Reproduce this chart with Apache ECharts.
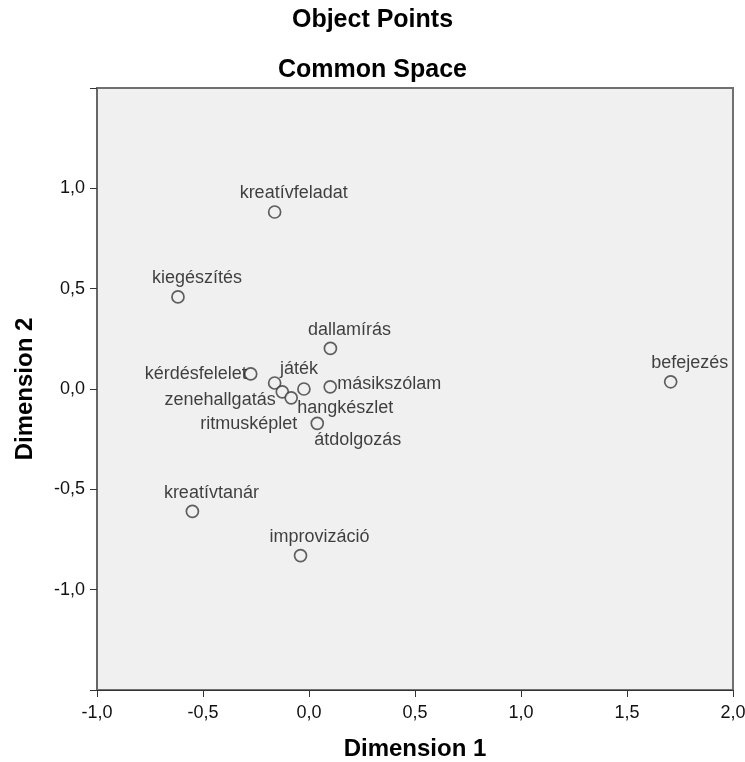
<!DOCTYPE html>
<html>
<head>
<meta charset="utf-8">
<script src="https://cdn.jsdelivr.net/npm/echarts@6/dist/echarts.min.js"></script>
<style>
html,body{margin:0;padding:0;background:#fff;}
#c{width:745px;height:762px;}
</style>
</head>
<body>
<div id="c"></div>
<script>
// ---- data ----
var names = ['kreatívfeladat','kiegészítés','dallamírás','befejezés','kérdésfelelet','játék','másikszólam','zenehallgatás','hangkészlet','ritmusképlet','átdolgozás','kreatívtanár','improvizáció'];
var dim1 = [-0.162,-0.618,0.101,1.706,-0.275,-0.024,0.100,-0.162,-0.126,-0.084,0.039,-0.550,-0.040];
var dim2 = [0.882,0.459,0.202,0.036,0.075,0.000,0.011,0.030,-0.014,-0.044,-0.171,-0.610,-0.830];
var xTicks = [-1.0,-0.5,0.0,0.5,1.0,1.5,2.0];
var yTickLabels = [-1.0,-0.5,0.0,0.5,1.0];

// ---- label placement (style only) ----
var labelPlace = {
  'kérdésfelelet': {align:'right', offset:[-4,0]},
  'játék': {align:'center', offset:[-5,-20]},
  'másikszólam': {align:'left', offset:[7,-3]},
  'zenehallgatás': {align:'right', offset:[1,17]},
  'hangkészlet': {align:'left', offset:[15,16]},
  'ritmusképlet': {align:'right', offset:[6,26]},
  'átdolgozás': {align:'left', offset:[-3,17]}
};
var defaultPlace = {align:'center', offset:[19,-18.5]};

function fmt(v){ return v.toFixed(1).replace('.', ','); }

var seriesData = names.map(function(n,i){
  var p = labelPlace[n] || defaultPlace;
  return {
    name: n,
    value: [dim1[i], dim2[i]],
    label: {show:true, position:'inside', align:p.align, verticalAlign:'middle', offset:p.offset, formatter:n}
  };
});

var FF = 'Liberation Sans, Arial, sans-serif';
var chart = echarts.init(document.getElementById('c'), null, {renderer:'canvas'});
chart.setOption({
  backgroundColor:'#ffffff',
  animation:false,
  title:[
    {text:'Object Points', left:'center', top:3, textStyle:{fontFamily:FF, fontSize:25, fontWeight:'bold', color:'#000'}},
    {text:'Common Space', left:'center', top:53, textStyle:{fontFamily:FF, fontSize:25, fontWeight:'bold', color:'#000'}}
  ],
  grid:{left:97, right:12, top:88, bottom:72, show:true, backgroundColor:'#f0f0f0', borderColor:'#707070', borderWidth:2, containLabel:false, outerBoundsMode:'none'},
  xAxis:{
    type:'value', min:-1.0, max:2.0, interval:0.5,
    name:'Dimension 1', nameLocation:'middle', nameGap:47,
    nameTextStyle:{fontFamily:FF, fontSize:24, fontWeight:'bold', color:'#000'},
    axisLine:{show:true, onZero:false, lineStyle:{color:'#333', width:1}},
    axisTick:{show:true, length:7, lineStyle:{color:'#333'}},
    splitLine:{show:false},
    axisLabel:{fontFamily:FF, fontSize:18, color:'#111', margin:14,
      formatter:function(v){ return xTicks.indexOf(Math.round(v*10)/10) >= 0 ? fmt(v) : ''; }}
  },
  yAxis:{
    type:'value', min:-1.5, max:1.5, interval:0.5,
    name:'Dimension 2', nameLocation:'middle', nameGap:60,
    nameTextStyle:{fontFamily:FF, fontSize:24, fontWeight:'bold', color:'#000'},
    axisLine:{show:true, onZero:false, lineStyle:{color:'#666', width:2}},
    axisTick:{show:true, length:7, lineStyle:{color:'#333'}},
    splitLine:{show:false},
    axisLabel:{fontFamily:FF, fontSize:18, color:'#111', margin:12,
      formatter:function(v){ return yTickLabels.indexOf(Math.round(v*10)/10) >= 0 ? fmt(v) : ''; }}
  },
  series:[{
    type:'scatter',
    symbol:'circle',
    symbolSize:12,
    itemStyle:{color:'#f0f0f0', borderColor:'#3a3a3a', borderWidth:1.7},
    label:{fontFamily:FF, fontSize:18, color:'#111'},
    emphasis:{disabled:true},
    data:seriesData
  }]
});
</script>
</body>
</html>
